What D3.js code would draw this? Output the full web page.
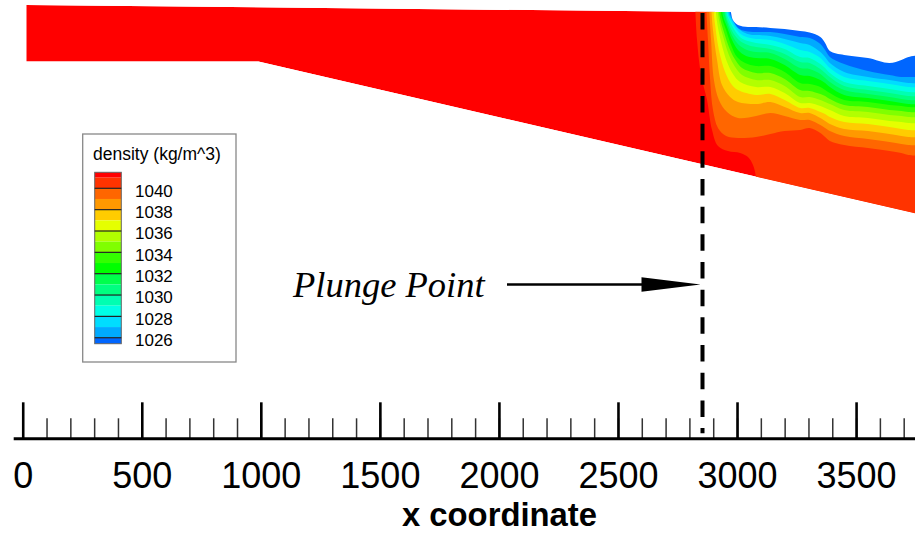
<!DOCTYPE html>
<html>
<head>
<meta charset="utf-8">
<script src="https://cdn.jsdelivr.net/npm/d3@7"></script>
<style>
  body { margin: 0; background: #fff; }
  svg { display: block; }
</style>
</head>
<body>
<svg id="chart"></svg>
<script>
// ---- data (x in m along channel, depth below the upstream surface) ----
var majorTicks = [0, 500, 1000, 1500, 2000, 2500, 3000, 3500];
var minorTicks = d3.range(0, 3701, 100);

var surfaceX = [15, 3760];
var surfaceDepth = [0, 1.8];
var bedX = [15, 990, 3760];
var bedDepth = [11.3, 11.3, 41.8];

var plungeX = 2855;

// contour levels, densest first; each one bounds the lighter water above it
var levels = [1041, 1040, 1039, 1038, 1037, 1036, 1035, 1034, 1033, 1032, 1031, 1030, 1029, 1028, 1027, 1026, 1025.44];
var legendLevels = [1040, 1038, 1036, 1034, 1032, 1030, 1028, 1026];
var legendEdges = [1041.5, 1041, 1040, 1039, 1038, 1037, 1036, 1035, 1034, 1033, 1032, 1031, 1030, 1029, 1028, 1027, 1026, 1025.44];

// near-plunge part of each isoline (x, depth)
var isoHeadX = [
  [2824, 2832, 2849, 2874, 2895, 2920, 2962, 3013, 3046, 3067, 3080, 3090, 3850],
  [2870, 2878, 2887, 2899, 2920, 2954, 3004],
  [2882, 2891, 2903, 2924, 2958, 3004],
  [2891, 2899, 2916, 2937, 2971, 3004],
  [2899, 2908, 2924, 2950, 2979, 3004],
  [2908, 2916, 2933, 2958, 2983, 3013],
  [2916, 2924, 2941, 2966, 2992, 3021],
  [2922, 2929, 2945, 2971, 2996, 3021],
  [2929, 2937, 2954, 2975, 3000, 3034],
  [2935, 2941, 2958, 2979, 3004, 3038],
  [2941, 2950, 2962, 2983, 3008, 3042],
  [2947, 2954, 2966, 2987, 3013, 3046],
  [2954, 2958, 2971, 2992, 3017, 3046],
  [2958, 2962, 2975, 2996, 3021, 3055],
  [2962, 2966, 2979, 3000, 3025, 3063],
  [2966, 2971, 2983, 3004, 3034],
  [2971, 2975, 2983, 3004, 3046]
];
var isoHeadDepth = [
  [0, 7, 14, 19, 25, 28.2, 29.2, 29.6, 30.4, 32, 34.6, 47, 47],
  [0, 7, 15, 21, 24.6, 26.2, 26.6],
  [0, 7, 15, 19, 21.4, 22.6],
  [0, 5, 11, 16, 18.4, 19.4],
  [0, 4, 9, 13.4, 16, 17],
  [0, 3.4, 7.4, 11.4, 13.8, 15.4],
  [0, 3, 6.2, 10, 12.4, 14],
  [0, 2.6, 5.4, 9, 11.2, 12.6],
  [0, 2.6, 5, 8, 10.4, 11.6],
  [0, 2.2, 4.4, 7, 9, 10.2],
  [0, 2.2, 4, 6.4, 8, 9],
  [0, 2.2, 3.8, 5.8, 7.2, 8],
  [0, 2, 3.4, 5.2, 6.6, 7.2],
  [0, 2, 3.2, 4.8, 6, 6.6],
  [0, 1.8, 3, 4.4, 5.4, 6],
  [0, 1.8, 3, 4.6, 5.2],
  [0, 1.6, 3, 4, 4.4]
];

// downstream part of each isoline, depth at shared stations
var stationX = [3080, 3140, 3200, 3265, 3305, 3350, 3370, 3390, 3450, 3550, 3640, 3690, 3720, 3850];
var isoBodyDepth = [
  null,
  [26.4, 25.8, 25.2, 25, 24.6, 25.6, 26.4, 27.2, 28, 28.6, 29.2, 29.6, 30, 30.2],
  [22.2, 21.6, 22.2, 23, 23, 24, 24.6, 25.2, 26.2, 26.8, 27.4, 27.8, 28, 28.2],
  [19.8, 19.4, 20.4, 21.6, 21.6, 22.6, 23.2, 23.8, 24.8, 25.2, 25.8, 26.2, 26.4, 26.6],
  [18, 17.8, 19, 20.6, 20.6, 21.4, 21.8, 22.4, 23.4, 23.8, 24.4, 24.8, 25, 25.2],
  [16.4, 16.4, 17.6, 19.6, 19.6, 20.2, 20.6, 21, 22.2, 22.6, 23.2, 23.4, 23.6, 23.8],
  [15, 15, 16.2, 18.4, 18.4, 19, 19.4, 19.8, 21, 21.4, 22, 22.2, 22.4, 22.6],
  [13.6, 13.6, 14.8, 17, 17.2, 17.8, 18.2, 18.8, 20, 20.4, 21, 21.2, 21.4, 21.6],
  [12.2, 12.2, 13.4, 15.6, 15.8, 16.4, 17, 17.6, 19, 19.4, 20, 20.2, 20.4, 20.6],
  [10.6, 10.8, 12, 14, 14.2, 15, 15.6, 16.4, 18, 18.6, 19.2, 19.6, 19.8, 20],
  [9.4, 9.6, 10.8, 12.6, 12.8, 13.8, 14.6, 15.4, 17, 17.8, 18.4, 18.8, 19, 19.2],
  [8.4, 8.8, 9.8, 11.4, 11.6, 12.8, 13.6, 14.4, 16.2, 17, 17.6, 18, 18.2, 18.4],
  [7.6, 8, 8.8, 10.4, 10.6, 11.8, 12.6, 13.6, 15.4, 16.2, 16.8, 17.2, 17.4, 17.6],
  [6.8, 7, 7.8, 9, 9.4, 10.6, 11.6, 12.6, 14.4, 15.2, 15.8, 16.2, 16.4, 16.6],
  [6, 6.2, 6.8, 7.6, 8, 9.4, 10.4, 11.6, 13.4, 14.4, 15, 15.4, 15.6, 15.6],
  [5.4, 5.4, 5.8, 6.4, 6.6, 7.8, 9, 10.4, 11.8, 13.2, 14, 14.4, 14.4, 14.4],
  [4.4, 4.6, 4.8, 5.2, 5.5, 6.4, 7.6, 9.2, 10, 10.6, 11.6, 11, 10.4, 9.6]
];

// ---- styles ----
var bandColors = ['#ff0000', '#ff3300', '#ff6600', '#ff9900', '#ffcc00', '#e5ff00', '#b2ff00', '#80ff00',
  '#33ff00', '#00ff00', '#00ff4c', '#00ff80', '#00ffb2', '#00ffe5', '#00ddff', '#00aaff', '#0066ff'];
var sansFont = "'Liberation Sans', Arial, sans-serif";
var serifFont = "'Liberation Serif', 'Times New Roman', serif";

var W = 915, H = 533;
var axisY = 438.3;

var svg = d3.select("#chart").attr("width", W).attr("height", H);

var x = d3.scaleLinear().domain([-40, 3750]).range([13.2, 915.6]);
var y = d3.scaleLinear().domain([0, 42]).range([5, 215]);

// ---- channel outline as clip ----
var outline = d3.zip(surfaceX, surfaceDepth).concat(d3.zip(bedX, bedDepth).reverse());
var outlinePath = d3.line().x(function(d) { return x(d[0]); }).y(function(d) { return y(d[1]); })(outline) + "Z";

svg.append("clipPath").attr("id", "channel")
  .append("path").attr("d", outlinePath);

var field = svg.append("g").attr("clip-path", "url(#channel)");
field.append("path").attr("d", outlinePath).attr("fill", bandColors[0]);

var isoLine = d3.line()
  .x(function(d) { return x(d[0]); })
  .y(function(d) { return y(d[1]); })
  .curve(d3.curveCatmullRom.alpha(0.5));

function regionAbove(i) {
  var pts = d3.zip(isoHeadX[i], isoHeadDepth[i]);
  if (isoBodyDepth[i]) pts = pts.concat(d3.zip(stationX, isoBodyDepth[i]));
  var first = pts[0], last = pts[pts.length - 1];
  return isoLine(pts) +
    "L" + x(last[0]) + "," + y(-5) +
    "L" + x(first[0]) + "," + y(-5) + "Z";
}

levels.forEach(function(lev, i) {
  var isWhite = i + 1 >= bandColors.length;
  // the lightest water is left blank, drawn unclipped so no fringe shows on the surface
  (isWhite ? svg : field).append("path")
    .attr("d", regionAbove(i))
    .attr("fill", isWhite ? "#ffffff" : bandColors[i + 1]);
});

// ---- plunge line ----
svg.append("line")
  .attr("x1", x(plungeX)).attr("x2", x(plungeX))
  .attr("y1", 13).attr("y2", axisY - 5)
  .attr("stroke", "#000").attr("stroke-width", 4)
  .attr("stroke-dasharray", "16.5 11.17");

// ---- annotation ----
svg.append("text")
  .attr("x", 293).attr("y", 297)
  .attr("font-family", serifFont).attr("font-style", "italic")
  .attr("font-size", 36.5).attr("fill", "#000")
  .text("Plunge Point");

var tipX = x(plungeX) - 2;
svg.append("line")
  .attr("x1", 507).attr("x2", tipX - 50)
  .attr("y1", 284.5).attr("y2", 284.5)
  .attr("stroke", "#000").attr("stroke-width", 2.4);
svg.append("path")
  .attr("d", "M" + (tipX - 59) + ",277.3L" + tipX + ",284.5L" + (tipX - 59) + ",291.7Z")
  .attr("fill", "#000");

// ---- x axis ----
var minorAxis = svg.append("g")
  .attr("transform", "translate(0," + axisY + ")")
  .call(d3.axisBottom(x).tickValues(minorTicks).tickSize(-20).tickFormat(""));
minorAxis.select(".domain").remove();
minorAxis.selectAll(".tick line").attr("stroke", "#333").attr("stroke-width", 1.5);

var majorAxis = svg.append("g")
  .attr("transform", "translate(0," + axisY + ")")
  .call(d3.axisBottom(x).tickValues(majorTicks).tickSize(-36).tickSizeOuter(0).tickPadding(24.5).tickFormat(d3.format("d")));
majorAxis.select(".domain").attr("stroke", "#000").attr("stroke-width", 3);
majorAxis.selectAll(".tick line").attr("stroke", "#000").attr("stroke-width", 2.6);
majorAxis.selectAll(".tick text")
  .attr("fill", "#000")
  .attr("font-family", sansFont)
  .attr("font-size", 36);

svg.append("text")
  .attr("x", 499.5).attr("y", 526)
  .attr("text-anchor", "middle")
  .attr("font-family", sansFont).attr("font-weight", "bold")
  .attr("font-size", 32.8).attr("fill", "#000")
  .text("x coordinate");

// ---- legend ----
var legend = svg.append("g");
legend.append("rect")
  .attr("x", 82.7).attr("y", 134).attr("width", 153.3).attr("height", 228)
  .attr("fill", "#fff").attr("stroke", "#888").attr("stroke-width", 1.3);
legend.append("text")
  .attr("x", 93).attr("y", 159.5)
  .attr("font-family", sansFont).attr("font-size", 17.5).attr("fill", "#000")
  .text("density (kg/m^3)");

var ly = d3.scaleLinear().domain([1041.5, 1025.44]).range([172.3, 343.7]);
var barX = 94.7, barW = 26.6;
legend.selectAll("rect.band")
  .data(d3.range(legendEdges.length - 1))
  .enter().append("rect")
  .attr("class", "band")
  .attr("x", barX).attr("width", barW)
  .attr("y", function(i) { return ly(legendEdges[i]); })
  .attr("height", function(i) { return ly(legendEdges[i + 1]) - ly(legendEdges[i]); })
  .attr("fill", function(i) { return bandColors[i]; });
legend.append("rect")
  .attr("x", barX).attr("y", ly(1041.5)).attr("width", barW).attr("height", ly(1025.44) - ly(1041.5))
  .attr("fill", "none").attr("stroke", "#666").attr("stroke-width", 1);
legend.selectAll("line.lev")
  .data(legendLevels)
  .enter().append("line")
  .attr("class", "lev")
  .attr("x1", barX).attr("x2", barX + barW)
  .attr("y1", function(d) { return ly(d); }).attr("y2", function(d) { return ly(d); })
  .attr("stroke", "#222").attr("stroke-width", 1.2);
legend.selectAll("text.lab")
  .data(legendLevels)
  .enter().append("text")
  .attr("class", "lab")
  .attr("x", 135).attr("y", function(d) { return ly(d) + 8.4; })
  .attr("font-family", sansFont).attr("font-size", 17).attr("fill", "#000")
  .text(function(d) { return d; });
</script>
</body>
</html>
